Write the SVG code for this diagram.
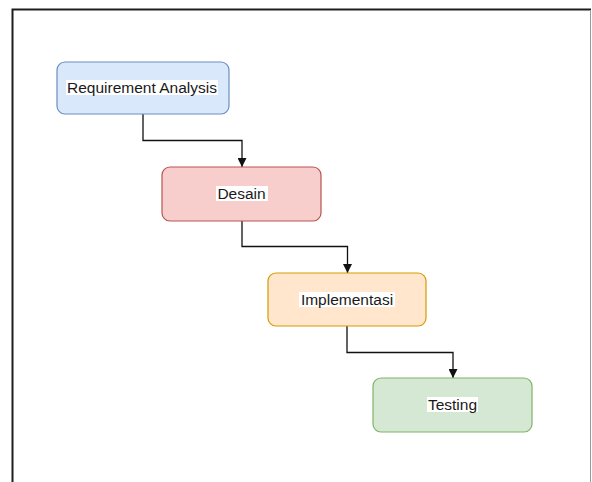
<svg xmlns="http://www.w3.org/2000/svg" width="592" height="482" viewBox="0 0 592 482">
  <defs>
    <marker id="arrow" viewBox="0 0 10 10" refX="10" refY="5" markerWidth="9" markerHeight="9" markerUnits="userSpaceOnUse" orient="auto">
      <path d="M0,0 L10,5 L0,10 Z" fill="#111"/>
    </marker>
    <style>
      .box { stroke-width: 1.2; }
      .lbl { font-family: "Liberation Sans", Arial, Helvetica, sans-serif; font-size: 15.5px; fill: #1a1a1a; text-anchor: middle; }
      .hl { fill: #ffffff; }
      .conn { fill: none; stroke: #111; stroke-width: 1.3; marker-end: url(#arrow); }
      .frame { fill: none; stroke: #1e1e1e; stroke-width: 2; }
    </style>
  </defs>
  <rect x="0" y="0" width="592" height="482" fill="#ffffff"/>
  <g id="frame">
    <path class="frame" d="M12.5,482 L12.5,9.5 L591,9.5"/>
    <line x1="590.5" y1="10" x2="590.5" y2="482" stroke="#999" stroke-width="1"/>
  </g>
  <g id="connectors">
    <path class="conn" d="M143,114 L143,140.5 L242,140.5 L242,167"/>
    <path class="conn" d="M242,221 L242,246.5 L347.5,246.5 L347.5,273"/>
    <path class="conn" d="M347,326 L347,352.5 L453,352.5 L453,378"/>
  </g>
  <g id="node-requirement">
    <rect class="box" x="57" y="62" width="172" height="52" rx="8" fill="#dae8fc" stroke="#6c8ebf"/>
    <rect class="hl" x="66" y="80" width="152" height="15"/>
    <text class="lbl" x="142" y="93">Requirement Analysis</text>
  </g>
  <g id="node-desain">
    <rect class="box" x="162" y="167" width="159" height="54" rx="8" fill="#f8cecc" stroke="#b85450"/>
    <rect class="hl" x="216" y="186" width="52" height="15"/>
    <text class="lbl" x="241.5" y="199">Desain</text>
  </g>
  <g id="node-implementasi">
    <rect class="box" x="268" y="273" width="158" height="53" rx="8" fill="#ffe6cc" stroke="#d79b00"/>
    <rect class="hl" x="299" y="292" width="96" height="15"/>
    <text class="lbl" x="347" y="305">Implementasi</text>
  </g>
  <g id="node-testing">
    <rect class="box" x="373" y="378" width="159" height="54" rx="8" fill="#d5e8d4" stroke="#82b366"/>
    <rect class="hl" x="427" y="397" width="51" height="15"/>
    <text class="lbl" x="452.5" y="410">Testing</text>
  </g>
</svg>
